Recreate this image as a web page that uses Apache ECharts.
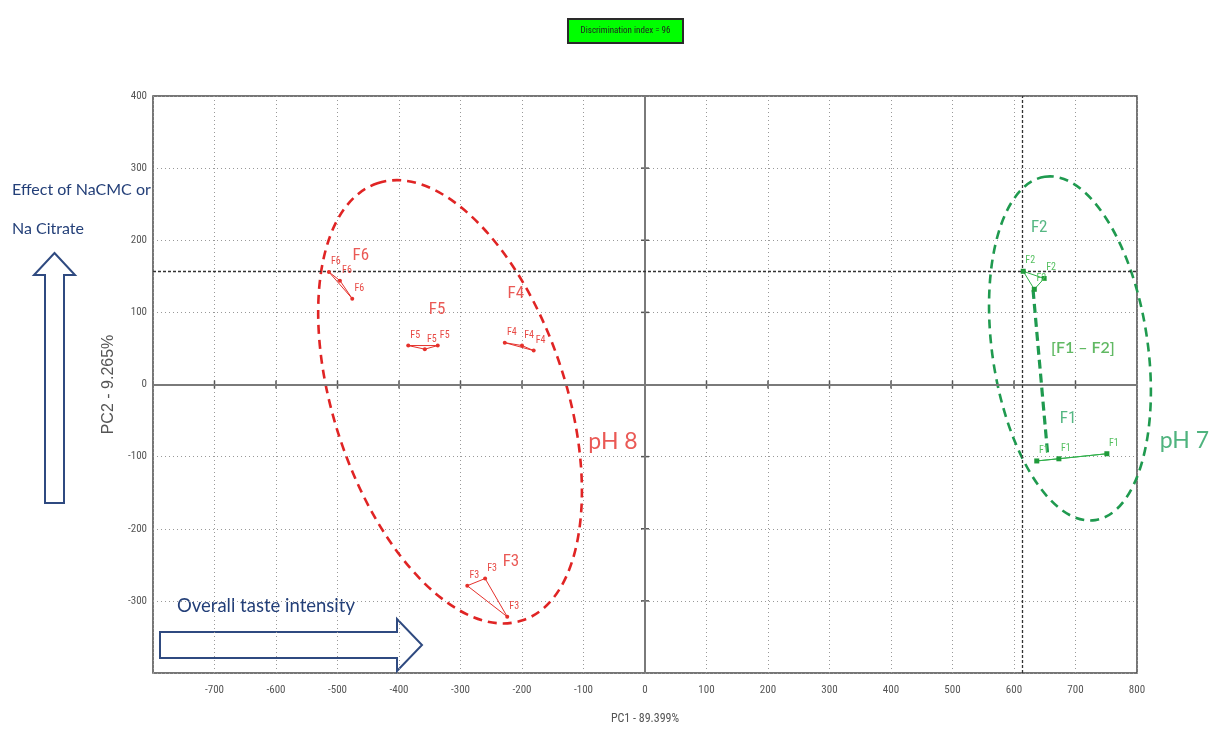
<!DOCTYPE html>
<html><head><meta charset="utf-8">
<script src="https://cdn.jsdelivr.net/npm/echarts@6/dist/echarts.min.js"></script>
<style>html,body{margin:0;padding:0;background:#fff}#c{width:1213px;height:738px}</style>
</head><body><div id="c"></div>
<script>
// ---------- data ----------
const clusterNames = ['F6', 'F5', 'F4', 'F3', 'F2', 'F1'];
const clusterPH    = ['pH 8', 'pH 8', 'pH 8', 'pH 8', 'pH 7', 'pH 7'];
const f6X = [-514, -496, -476], f6Y = [156, 144, 119];
const f5X = [-385, -358, -337], f5Y = [54, 49, 54];
const f4X = [-228, -200, -181], f4Y = [58, 54, 47];
const f3X = [-289, -260, -224], f3Y = [-279, -269, -322];
const f2X = [615, 633, 649],    f2Y = [157, 132, 147];
const f1X = [637, 673, 751],    f1Y = [-106, -103, -96];
const clusterX = [f6X, f5X, f4X, f3X, f2X, f1X];
const clusterY = [f6Y, f5Y, f4Y, f3Y, f2Y, f1Y];

// F2 -> F1 shift line
const linkX = [631, 655], linkY = [131, -99];
// cross-hair (dashed lines)
const crossX = 613, crossY = 157;

// ellipses: centre, end of one semi-axis, end of the other semi-axis
const ellipsePH8 = [-317, -24, -435, 279, -138, 27];
const ellipsePH7 = [691, 50, 650, 288, 816, 66];

// annotations
const annotText = ['F6', 'F5', 'F4', 'F3', 'F2', 'F1', '[F1 – F2]', 'pH 8', 'pH 7'];
const annotX    = [-462, -338, -210, -218, 641, 688, 712, -52, 877];
const annotY    = [179, 103, 126, -246, 217, -47, 51, -79, -78];
const annotKind = ['r', 'r', 'r', 'r', 'g', 'g', 'gb', 'ph8', 'ph7'];

const xMin = -800, xMax = 800, yMin = -400, yMax = 400, step = 100;
const xName = 'PC1 - 89.399%';
const yName = 'PC2 - 9.265%';

// ---------- styles ----------
const RED = '#e5302b', GREEN = '#2fb04a', GREEN_D = '#1f9a4f';
const NARROW = "'Liberation Sans Narrow','Roboto Condensed','DejaVu Sans Condensed',Roboto,sans-serif";
const CAL = "Lato,'Open Sans',sans-serif";
const NAVY = '#233f78';

function renderEllipse(color) {
  return function (params, api) {
    const c = api.coord([api.value(0), api.value(1)]);
    const a = api.coord([api.value(2), api.value(3)]);
    const b = api.coord([api.value(4), api.value(5)]);
    const u = [a[0] - c[0], a[1] - c[1]], v = [b[0] - c[0], b[1] - c[1]];
    const k = 0.5523;
    const P = (s, t) => (c[0] + s * u[0] + t * v[0]).toFixed(2) + ' ' + (c[1] + s * u[1] + t * v[1]).toFixed(2);
    const seg = [[1, 0], [0, 1], [-1, 0], [0, -1]];
    let d = 'M ' + P(1, 0);
    for (let i = 0; i < 4; i++) {
      const [s0, t0] = seg[i], [s1, t1] = seg[(i + 1) % 4];
      d += ' C ' + P(s0 - k * t0, t0 + k * s0) + ' ' + P(s1 + k * t1, t1 - k * s1) + ' ' + P(s1, t1);
    }
    d += ' Z';
    return { type: 'path', shape: { pathData: d },
      style: { fill: 'none', stroke: color, lineWidth: 2.6, lineDash: [9, 6] } };
  };
}

const series = [];
series.push({ type: 'custom', coordinateSystem: 'cartesian2d', clip: false, z: 3,
  renderItem: renderEllipse('#e02424'), data: [ellipsePH8], silent: true });
series.push({ type: 'custom', coordinateSystem: 'cartesian2d', clip: false, z: 3,
  renderItem: renderEllipse(GREEN_D), data: [ellipsePH7], silent: true });

clusterNames.forEach((nm, i) => {
  const isG = clusterPH[i] === 'pH 7';
  const col = isG ? GREEN : RED;
  const pts = clusterX[i].map((x, j) => [x, clusterY[i][j]]);
  const data = pts.map(p => ({ value: p, label: { show: true } }));
  data.push({ value: pts[0], label: { show: false }, symbolSize: 0 });
  series.push({
    type: 'line', name: nm, data: data, z: 5, silent: true,
    symbol: isG ? 'rect' : 'circle', symbolSize: isG ? 5 : 4,
    itemStyle: { color: isG ? '#1f9a3a' : RED },
    lineStyle: { color: col, width: 1 },
    label: { show: false, formatter: nm, position: 'top', offset: [7, 2],
      fontFamily: NARROW, fontSize: 10, color: isG ? '#55c060' : '#e84a45' }
  });
});

// small tick marks on the zero lines
const zeroTicksX = [-700, -600, -500, -400, -300, -200, -100, 100, 200, 300, 400, 500, 600, 700];
const zeroTicksY = [-300, -200, -100, 100, 200, 300];
series.push({
  type: 'custom', coordinateSystem: 'cartesian2d', z: 2, silent: true,
  data: zeroTicksX.map(v => [v, 0, 0]).concat(zeroTicksY.map(v => [0, v, 1])),
  renderItem: function (params, api) {
    const p = api.coord([api.value(0), api.value(1)]);
    const vert = api.value(2) === 0;
    return { type: 'line', shape: vert ? { x1: p[0], y1: p[1] - 4, x2: p[0], y2: p[1] + 4 }
                                       : { x1: p[0] - 4, y1: p[1], x2: p[0] + 4, y2: p[1] },
      style: { stroke: '#555', lineWidth: 1.5 } };
  }
});

series.push({
  type: 'line', data: linkX.map((x, j) => [x, linkY[j]]), symbol: 'none', z: 4, silent: true,
  lineStyle: { color: GREEN_D, width: 3.2, type: [9, 5] },
  markLine: { symbol: 'none', silent: true, label: { show: false },
    data: [
      { xAxis: 0, lineStyle: { color: '#7a7a7a', width: 2, type: 'solid' } },
      { yAxis: 0, lineStyle: { color: '#7a7a7a', width: 2, type: 'solid' } },
      { xAxis: crossX, lineStyle: { color: '#333', width: 1.3, type: [3, 2] } },
      { yAxis: crossY, lineStyle: { color: '#333', width: 1.3, type: [3, 2] } }
    ] }
});

const kindStyle = {
  r:   { color: RED, fontFamily: NARROW, fontSize: 17 },
  g:   { color: '#2aa564', fontFamily: NARROW, fontSize: 17 },
  gb:  { color: '#3aa83c', fontFamily: CAL, fontSize: 16, fontWeight: 600 },
  ph8: { color: RED, fontFamily: CAL, fontSize: 23 },
  ph7: { color: '#23a05e', fontFamily: CAL, fontSize: 23 }
};
series.push({
  type: 'scatter', symbolSize: 0, clip: false, z: 6, silent: true,
  data: annotText.map((t, i) => ({ value: [annotX[i], annotY[i]],
    label: Object.assign({ show: true, formatter: t, position: 'inside' }, kindStyle[annotKind[i]]) }))
});

const option = {
  backgroundColor: '#fff',
  animation: false,
  grid: { left: 153, right: 76, top: 96, bottom: 65, show: true, borderColor: '#4a4a4a', borderWidth: 1.5,
    backgroundColor: 'transparent', containLabel: false, outerBoundsMode: 'none' },
  xAxis: { type: 'value', min: xMin, max: xMax, interval: step,
    name: xName, nameLocation: 'middle', nameGap: 40,
    nameTextStyle: { color: '#555', fontFamily: NARROW, fontSize: 12 },
    axisLine: { show: false }, axisTick: { show: false },
    axisLabel: { color: '#555', fontFamily: NARROW, fontSize: 11, margin: 12,
      formatter: v => (v === xMin ? '' : String(v)) },
    splitLine: { show: true, lineStyle: { color: '#999', width: 1, type: [1, 3] } } },
  yAxis: { type: 'value', min: yMin, max: yMax, interval: step,
    name: yName, nameLocation: 'middle', nameGap: 22, nameRotate: 90,
    nameTextStyle: { color: '#555', fontFamily: "'Liberation Sans',Arial,sans-serif", fontSize: 16 },
    axisLine: { show: false }, axisTick: { show: false },
    axisLabel: { color: '#555', fontFamily: NARROW, fontSize: 11, margin: 6,
      formatter: v => (v === yMin ? '' : String(v)) },
    splitLine: { show: true, lineStyle: { color: '#999', width: 1, type: [1, 3] } } },
  graphic: [
    { type: 'rect', shape: { x: 568, y: 19, width: 115, height: 24 },
      style: { fill: '#00ff00', stroke: '#2a2a2a', lineWidth: 2 } },
    { type: 'text', x: 625.5, y: 31, style: { text: 'Discrimination index = 96', fill: '#222',
      font: "9px " + NARROW, align: 'center', verticalAlign: 'middle' } },
    { type: 'text', x: 12, y: 190, style: { text: 'Effect of NaCMC or', fill: NAVY,
      font: "16px " + CAL, verticalAlign: 'middle' } },
    { type: 'text', x: 12, y: 229, style: { text: 'Na Citrate', fill: NAVY,
      font: "16px " + CAL, verticalAlign: 'middle' } },
    { type: 'polygon', shape: { points: [[54.5, 253], [75, 275], [64, 275], [64, 503], [45, 503], [45, 275], [34, 275]] },
      style: { fill: '#fff', stroke: '#2f4a80', lineWidth: 2 } },
    { type: 'text', x: 177, y: 606, style: { text: 'Overall taste intensity', fill: NAVY,
      font: "18.5px " + CAL, verticalAlign: 'middle' } },
    { type: 'polygon', shape: { points: [[160, 632], [397, 632], [397, 619], [422, 645], [397, 671], [397, 658], [160, 658]] },
      style: { fill: '#fff', stroke: '#2f4a80', lineWidth: 2 } }
  ],
  series: series
};

const chart = echarts.init(document.getElementById('c'), null, { renderer: 'canvas' });
chart.setOption(option);
</script>
</body></html>
